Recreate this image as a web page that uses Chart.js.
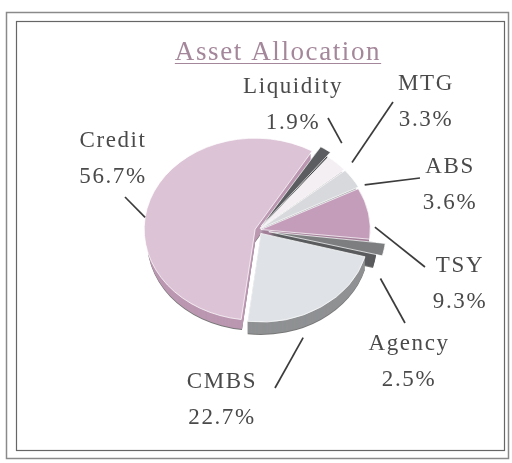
<!DOCTYPE html>
<html>
<head>
<meta charset="utf-8">
<script src="https://cdn.jsdelivr.net/npm/chart.js@4.4.0/dist/chart.umd.min.js"></script>
<style>
  body { margin: 0; background: #fff; }
  #wrap { width: 512px; height: 463px; }
</style>
</head>
<body>
<div id="wrap"><canvas id="allocChart" width="512" height="463"></canvas></div>
<script>
const categories = ['Credit', 'Liquidity', 'MTG', 'ABS', 'TSY', 'Agency', 'CMBS'];
const weights = [56.7, 1.9, 3.3, 3.6, 9.3, 2.5, 22.7];

const topColors = ['#dcc4d6', '#5c5d60', '#f4eff3', '#d8d9dc', '#c49dba', '#7c7e80', '#dfe2e6'];
const sideColors = ['#bb97b1', '#404144', '#cbc4c9', '#a9aaae', '#a27f99', '#5a5c5e', '#8f9193'];
const explode = [12, 24, 12, 12, 12, 44, 20];

// where the labels sit (first baseline) and how the leader lines run
const labelX = [113, 293, 426, 450, 460, 409, 222];
const labelY = [147, 93, 90, 173, 272, 350, 388];
const anchorShift = [-11.6, 4, 5, 6.6, 9, 9.5, 13];
const anchorGap = [3, 21, 14, 9, 6, 11, 11];
const lineEndX = [125, 328, 393, 420, 425, 405, 275];
const lineEndY = [197, 118, 102, 178, 267, 323, 388];

const TILT = 0.82;
const DEPTH = 13;
const LABEL_FONT = '23px "Liberation Serif", serif';

function squash(ctx, cx, cy) {
    ctx.translate(cx, cy);
    ctx.scale(1, TILT);
    ctx.translate(-cx, -cy);
}

function anchorPoint(arc, i) {
    const off = (arc.options.offset || 0) / 4;
    const mid = (arc.startAngle + arc.endAngle) / 2;
    const a = mid + anchorShift[i] * Math.PI / 180;
    const r = arc.outerRadius + anchorGap[i];
    let x = arc.x + Math.cos(mid) * off + Math.cos(a) * r;
    let y = arc.y + (Math.sin(mid) * off + Math.sin(a) * r) * TILT;
    if (Math.sin(a) > 0) y += DEPTH;
    return [x, y];
}

const framePlugin = {
    id: 'frame',
    beforeDraw(chart) {
        const ctx = chart.ctx;
        ctx.save();
        ctx.fillStyle = '#fff';
        ctx.fillRect(0, 0, chart.width, chart.height);
        ctx.strokeStyle = '#8a8a8a';
        ctx.lineWidth = 1.5;
        ctx.strokeRect(6.5, 12.5, 502, 446);
        ctx.strokeStyle = '#666';
        ctx.lineWidth = 1.2;
        ctx.strokeRect(16.5, 21.5, 488, 429);

        // title, underlined
        ctx.font = '27px "Liberation Serif", serif';
        ctx.letterSpacing = '1.6px';
        ctx.fillStyle = '#a4879a';
        ctx.textAlign = 'center';
        ctx.textBaseline = 'alphabetic';
        const title = 'Asset Allocation';
        ctx.fillText(title, 278, 60);
        const w = ctx.measureText(title).width;
        ctx.strokeStyle = '#a4879a';
        ctx.lineWidth = 1;
        ctx.beginPath();
        ctx.moveTo(278 - w / 2, 63.5);
        ctx.lineTo(278 + w / 2, 63.5);
        ctx.stroke();
        ctx.restore();
    }
};

const tiltPlugin = {
    id: 'tilt',
    beforeDatasetsDraw(chart) {
        const ctx = chart.ctx;
        const arcs = chart.getDatasetMeta(0).data;
        // pie thickness: stacked copies of every slice in the side colour
        for (let d = DEPTH; d >= 1; d--) {
            arcs.forEach((arc, i) => {
                const off = (arc.options.offset || 0) / 4;
                const mid = (arc.startAngle + arc.endAngle) / 2;
                const x = arc.x + Math.cos(mid) * off;
                const y = arc.y + Math.sin(mid) * off;
                ctx.save();
                ctx.translate(0, d);
                squash(ctx, arc.x, arc.y);
                ctx.beginPath();
                ctx.moveTo(x, y);
                ctx.arc(x, y, arc.outerRadius, arc.startAngle, arc.endAngle);
                ctx.closePath();
                ctx.fillStyle = d === DEPTH ? '#777' : sideColors[i];
                ctx.fill();
                ctx.restore();
            });
        }
        ctx.save();
        squash(ctx, arcs[0].x, arcs[0].y);
    },
    afterDatasetsDraw(chart) {
        chart.ctx.restore();
    }
};

const labelPlugin = {
    id: 'sliceLabels',
    afterDraw(chart) {
        const ctx = chart.ctx;
        const arcs = chart.getDatasetMeta(0).data;
        ctx.save();
        ctx.font = LABEL_FONT;
        ctx.letterSpacing = '1.6px';
        ctx.fillStyle = '#4a4a4a';
        ctx.textAlign = 'center';
        ctx.textBaseline = 'alphabetic';
        ctx.strokeStyle = '#3c3c3c';
        ctx.lineWidth = 1.7;
        arcs.forEach((arc, i) => {
            ctx.fillText(categories[i], labelX[i], labelY[i]);
            ctx.fillText(weights[i].toFixed(1) + '%', labelX[i], labelY[i] + 36);
            const [ax, ay] = anchorPoint(arc, i);
            ctx.beginPath();
            ctx.moveTo(ax, ay);
            ctx.lineTo(lineEndX[i], lineEndY[i]);
            ctx.stroke();
        });
        ctx.restore();
    }
};

const config = {
    type: 'pie',
    data: {
        labels: categories,
        datasets: [{
            data: weights,
            backgroundColor: topColors,
            borderColor: '#ffffff',
            borderWidth: 0.8,
            offset: explode,
            clip: false
        }]
    },
    options: {
        responsive: false,
        animation: false,
        events: [],
        rotation: -173,
        radius: 108,
        layout: { padding: { left: 40, right: 36, top: 20, bottom: 23 } },
        plugins: {
            legend: { display: false },
            tooltip: { enabled: false }
        }
    },
    plugins: [framePlugin, tiltPlugin, labelPlugin]
};

new Chart(document.getElementById('allocChart'), config);
</script>
</body>
</html>
